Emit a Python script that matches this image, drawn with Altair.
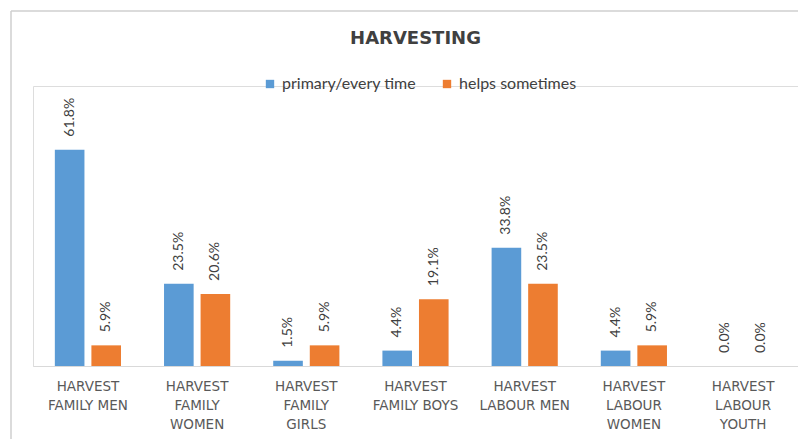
import altair as alt
import pandas as pd

# Harvesting roles: share of households by who does the work
categories = [
    "HARVEST|FAMILY MEN",
    "HARVEST|FAMILY|WOMEN",
    "HARVEST|FAMILY|GIRLS",
    "HARVEST|FAMILY BOYS",
    "HARVEST|LABOUR MEN",
    "HARVEST|LABOUR|WOMEN",
    "HARVEST|LABOUR|YOUTH",
]
primary = [61.8, 23.5, 1.5, 4.4, 33.8, 4.4, 0.0]
helps = [5.9, 20.6, 5.9, 19.1, 23.5, 5.9, 0.0]
series = ["primary/every time", "helps sometimes"]
colors = ["#5B9BD5", "#ED7D31"]

rows = []
for cat, p, h in zip(categories, primary, helps):
    rows.append({"cat": cat, "series": series[0], "value": p})
    rows.append({"cat": cat, "series": series[1], "value": h})
df = pd.DataFrame(rows)
df["label"] = df["value"].map(lambda v: f"{v:.1f}%")

W, H = 765, 280
TEXT = "#404040"

x = alt.X(
    "cat:N",
    sort=categories,
    scale=alt.Scale(paddingInner=0.394),
    axis=alt.Axis(
        title=None,
        labelExpr="split(datum.label, '|')",
        labelAngle=0,
        ticks=False,
        domainColor="#D9D9D9",
        domainWidth=1,
        labelColor="#595959",
        labelFont="DejaVu Sans",
        labelFontSize=13.5,
        labelPadding=13,
        labelLineHeight=19,
        labelLimit=0,
    ),
)
xoff = alt.XOffset("series:N", sort=series, scale=alt.Scale(paddingInner=0.19, paddingOuter=0))
y = alt.Y("value:Q", scale=alt.Scale(domain=[0, 80]), axis=None)

base = alt.Chart(df).encode(x=x, xOffset=xoff, y=y)

bars = base.mark_bar().encode(
    color=alt.Color(
        "series:N",
        sort=series,
        scale=alt.Scale(domain=series, range=colors),
        legend=alt.Legend(
            orient="none",
            legendX=229,
            legendY=-10,
            direction="horizontal",
            title=None,
            symbolType="square",
            symbolSize=70,
            symbolStrokeWidth=0,
            labelFont="Lato",
            labelFontSize=16,
            labelColor=TEXT,
            columnPadding=22,
        ),
    )
)

labels = base.mark_text(
    angle=270, align="left", baseline="middle", dx=13,
    font="Lato", fontSize=14, color=TEXT,
).encode(text="label:N")

# light frame around the chart area
frame_df = pd.DataFrame({"k": [0]})
frame_top = alt.Chart(frame_df).mark_rule(color="#CFCFCF", strokeWidth=1.5).encode(
    x=alt.value(-22), x2=alt.value(W + 10), y=alt.value(-75)
)
frame_left = alt.Chart(frame_df).mark_rule(color="#CFCFCF", strokeWidth=1.5).encode(
    x=alt.value(-22), y=alt.value(-75), y2=alt.value(H + 80)
)

chart = (
    alt.layer(frame_top, frame_left, bars, labels)
    .properties(
        width=W,
        height=H,
        title=alt.TitleParams(
            "HARVESTING",
            font="DejaVu Sans",
            fontSize=18,
            fontWeight="bold",
            color=TEXT,
            anchor="middle",
            offset=0,
            dy=38,
        ),
        autosize=alt.AutoSizeParams(type="none"),
        padding={"left": 33, "top": 86, "right": 0, "bottom": 73},
    )
    .configure_view(stroke=None)
    .configure(background="white")
)

chart.save("out.html", embed_options={"renderer": "svg", "actions": False})
